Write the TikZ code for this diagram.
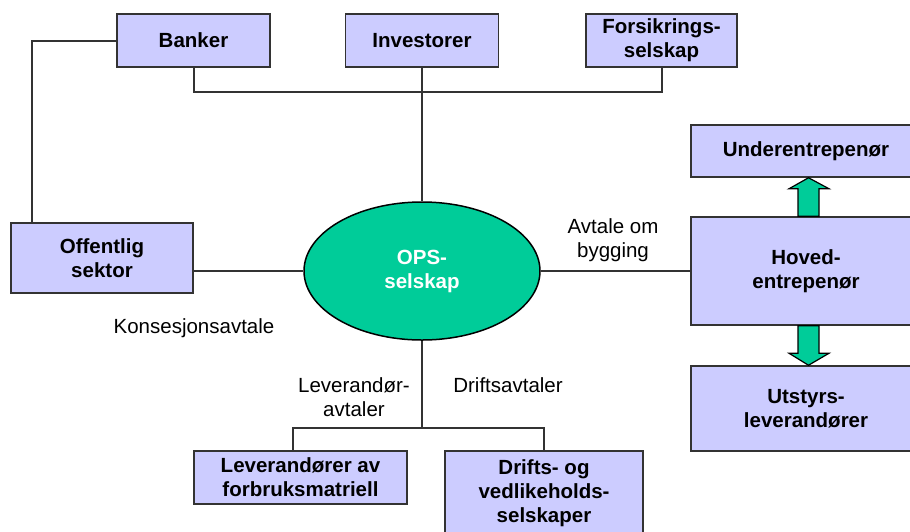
\documentclass[tikz,border=0pt]{standalone}
\usepackage{fontspec}
\setmainfont{Liberation Sans}
\usetikzlibrary{shapes.geometric,calc}
\definecolor{boxfill}{HTML}{CCCCFF}
\definecolor{opsgreen}{HTML}{00CC99}
\definecolor{linegray}{HTML}{333333}
\tikzset{
  box/.style={draw=linegray, fill=boxfill, line width=1.5pt, align=center, inner sep=0pt, font=\fontsize{20.5}{24}\selectfont\bfseries},
  link/.style={draw=linegray, line width=2pt},
  tag/.style={align=center, font=\fontsize{20.5}{24}\selectfont},
  blockarrow/.style={draw=black, fill=opsgreen, line width=1.2pt, line join=miter}
}
\begin{document}
\begin{tikzpicture}[x=1pt,y=-1pt]
\useasboundingbox (0,0) rectangle (910,531);
\clip (0,0) rectangle (910,531);
\node[box, minimum width=153pt, minimum height=53pt] (banker) at (193.5,40.5) {Banker};
\node[box, minimum width=153pt, minimum height=53pt] (invest) at (422,40.5) {Investorer};
\node[box, minimum width=151pt, minimum height=53pt] (forsik) at (661.5,40.5) {Forsikrings-\\selskap};
\node[box, minimum width=182pt, minimum height=70pt] (offentlig) at (102,258) {Offentlig\\sektor};
\node[draw=black, fill=opsgreen, ellipse, line width=1.5pt, minimum width=236pt, minimum height=138pt, inner sep=0pt, align=center, text=white, font=\fontsize{20.5}{24}\selectfont\bfseries] (ops) at (422,271) {OPS-\\selskap};
\node[box, minimum width=230pt, minimum height=52pt] (under) at (806,151) {Underentrepenør};
\node[box, minimum width=230pt, minimum height=108pt] (hoved) at (806,271) {Hoved-\\entrepenør};
\node[box, minimum width=230pt, minimum height=85pt] (utstyr) at (806,408.5) {Utstyrs-\\leverandører};
\node[box, minimum width=213pt, minimum height=53pt] (lev) at (300.5,477.5) {Leverandører av\\forbruksmatriell};
\node[box, minimum width=198pt, minimum height=84pt] (drifts) at (544,493) {Drifts- og\\vedlikeholds-\\selskaper};
\node[tag] (bygg) at (613,240) {Avtale om\\bygging};
\node[tag] (kons) at (194,328) {Konsesjonsavtale};
\node[tag] (levavt) at (354,397) {Leverandør-\\avtaler};
\node[tag] (driftavt) at (508,385) {Driftsavtaler};
% connectors
\draw[link] (banker.south) -- ++(0,24) -| (forsik.south);
\draw[link] (invest.south) -- (ops.north);
\draw[link] (banker.west) -| ($(offentlig.north west)+(22,0)$);
\draw[link] (offentlig.east |- ops.west) -- (ops.west);
\draw[link] (ops.east) -- (hoved.west);
\draw[link] (ops.south) -- ++(0,87) coordinate (fork);
\draw[link] ($(lev.north)+(-8,0)$) |- (fork) -| (drifts.north);
% block arrows
\draw[blockarrow] ($(hoved.north)+(-8,0)$) -- ($(under.south)+(-8,11)$) -- ($(under.south)+(-17,11)$) -- ($(under.south)+(2.5,0)$) -- ($(under.south)+(23,11)$) -- ($(under.south)+(13,11)$) -- ($(hoved.north)+(13,0)$) -- cycle;
\draw[blockarrow] ($(hoved.south)+(-8,0)$) -- ($(utstyr.north)+(-8,-12)$) -- ($(utstyr.north)+(-17,-12)$) -- ($(utstyr.north)+(2.5,0)$) -- ($(utstyr.north)+(23,-12)$) -- ($(utstyr.north)+(13,-12)$) -- ($(hoved.south)+(13,0)$) -- cycle;
\end{tikzpicture}
\end{document}
